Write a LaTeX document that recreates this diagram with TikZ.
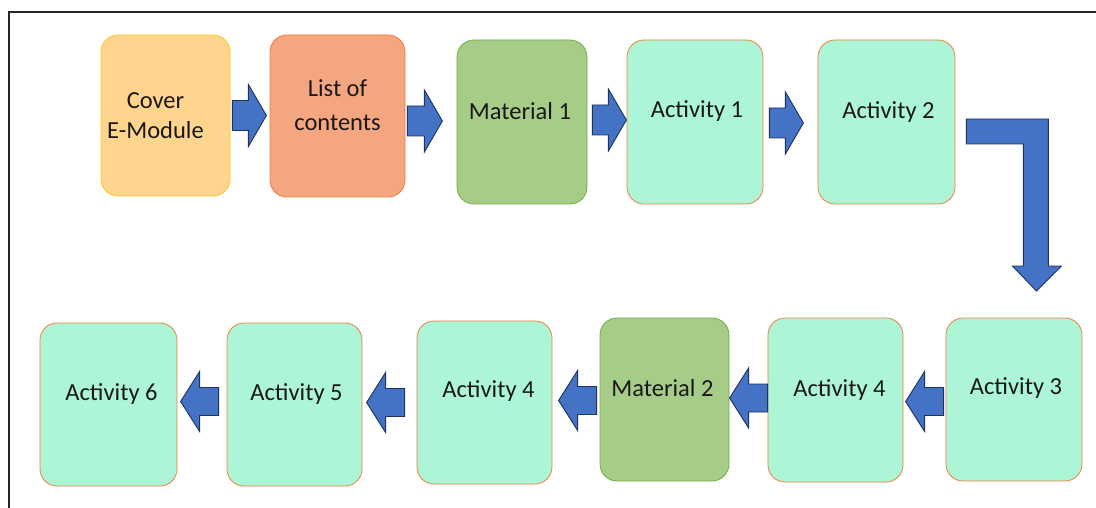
\documentclass[tikz,border=0pt]{standalone}
\usepackage{fontspec}
\setmainfont{Carlito}
\usetikzlibrary{calc}
\definecolor{coverfill}{RGB}{255,212,140}
\definecolor{coverline}{RGB}{255,196,40}
\definecolor{listfill}{RGB}{244,166,128}
\definecolor{listline}{RGB}{237,125,49}
\definecolor{matfill}{RGB}{167,204,136}
\definecolor{matline}{RGB}{112,173,71}
\definecolor{actfill}{RGB}{172,245,214}
\definecolor{actline}{RGB}{240,130,60}
\definecolor{arrfill}{RGB}{68,114,196}
\definecolor{arrline}{RGB}{30,50,95}
\tikzset{
  box/.style={rounded corners=17pt, line width=0.8pt, inner sep=0pt},
  coverbox/.style={box, draw=coverline, fill=coverfill},
  listbox/.style={box, draw=listline, fill=listfill},
  matbox/.style={box, draw=matline, fill=matfill},
  actbox/.style={box, draw=actline, fill=actfill},
  lbl/.style={font=\fontsize{24.5}{30}\selectfont, align=center, text=black!90},
  barrow/.style={draw=arrline, fill=arrfill, line width=0.9pt, line join=miter},
}
% right-pointing block arrow: node, dx, dy, length
\newcommand\rightblk[4]{%
  \draw[barrow] ($(#1.east)+(#2,#3)$) ++(0,-15) -- ++({#4-18},0) -- ++(0,-16)
    -- ++(18,31) -- ++(-18,31) -- ++(0,-16) -- ++({18-#4},0) -- cycle;}
% left-pointing block arrow: node, dx, dy, length
\newcommand\leftblk[4]{%
  \draw[barrow] ($(#1.west)+(#2,#3)$) ++(0,-14) -- ++({19-#4},0) -- ++(0,-16)
    -- ++(-19,30) -- ++(19,30) -- ++(0,-16) -- ++({#4-19},0) -- cycle;}
\begin{document}
\begin{tikzpicture}[x=1pt, y=-1pt]
\useasboundingbox (0,0) rectangle (1096,508);
\fill[white] (0,0) rectangle (1096,508);
% frame
\draw[line width=2pt, black!85] (9,508) coordinate (fbl) -- (9,12) coordinate (ftl) -- (1096,12) coordinate (ftr);

% top row
\node[coverbox, minimum width=129pt, minimum height=161pt] (cover) at (165.5,115.5) {};
\node[listbox,  minimum width=135pt, minimum height=162pt] (list)  at (337.5,116) {};
\node[matbox,   minimum width=130pt, minimum height=164pt] (mat1)  at (522,122) {};
\node[actbox,   minimum width=136pt, minimum height=164pt] (act1)  at (695,122) {};
\node[actbox,   minimum width=137pt, minimum height=164pt] (act2)  at (886.5,122) {};
% bottom row
\node[actbox,   minimum width=136pt, minimum height=163pt] (act3)  at (1014,399.5) {};
\node[actbox,   minimum width=135pt, minimum height=164pt] (act4r) at (835.5,400) {};
\node[matbox,   minimum width=129pt, minimum height=163pt] (mat2)  at (664.5,399.5) {};
\node[actbox,   minimum width=135pt, minimum height=163pt] (act4l) at (484.5,402.5) {};
\node[actbox,   minimum width=135pt, minimum height=163pt] (act5)  at (294.5,404.5) {};
\node[actbox,   minimum width=137pt, minimum height=163pt] (act6)  at (108.5,404.5) {};

% labels
\node[lbl] (tcover) at ($(cover)+(-10,0)$) {Cover\\E-Module};
\node[lbl, font=\fontsize{24.5}{34}\selectfont] (tlist)  at ($(list)+(0,-11)$) {List of\\contents};
\node[lbl] (tmat1)  at ($(mat1)+(-2,-11)$) {Material 1};
\node[lbl] (tact1)  at ($(act1)+(2,-11)$) {Activity 1};
\node[lbl] (tact2)  at ($(act2)+(2,-10)$) {Activity 2};
\node[lbl] (tact3)  at ($(act3)+(2,-11)$) {Activity 3};
\node[lbl] (tact4r) at ($(act4r)+(4,-10)$) {Activity 4};
\node[lbl] (tmat2)  at ($(mat2)+(-2,-11)$) {Material 2};
\node[lbl] (tact4l) at ($(act4l)+(4,-11)$) {Activity 4};
\node[lbl] (tact5)  at ($(act5)+(2,-10)$) {Activity 5};
\node[lbl] (tact6)  at ($(act6)+(3,-10)$) {Activity 6};

% top row arrows
\rightblk{cover}{2}{0}{34}
\rightblk{list}{2}{5}{35}
\rightblk{mat1}{5}{-2}{34}
\rightblk{act1}{6}{1}{34}
% L-shaped arrow from Activity 2 down to Activity 3
\draw[barrow] ($(act2.east)+(11,-3)$) -- ++(82,0) -- ++(0,147) -- ++(13,0)
  -- ++(-25,25) coordinate (ltip) -- ++(-24,-25) -- ++(11,0) -- ++(0,-122) -- ++(-57,0) -- cycle;
% bottom row arrows
\leftblk{act3}{-2}{2}{38}
\leftblk{act4r}{0}{-2}{38}
\leftblk{mat2}{-3}{1}{38}
\leftblk{act4l}{-12}{0}{38}
\leftblk{act5}{-8}{-3}{38}
\end{tikzpicture}
\end{document}
